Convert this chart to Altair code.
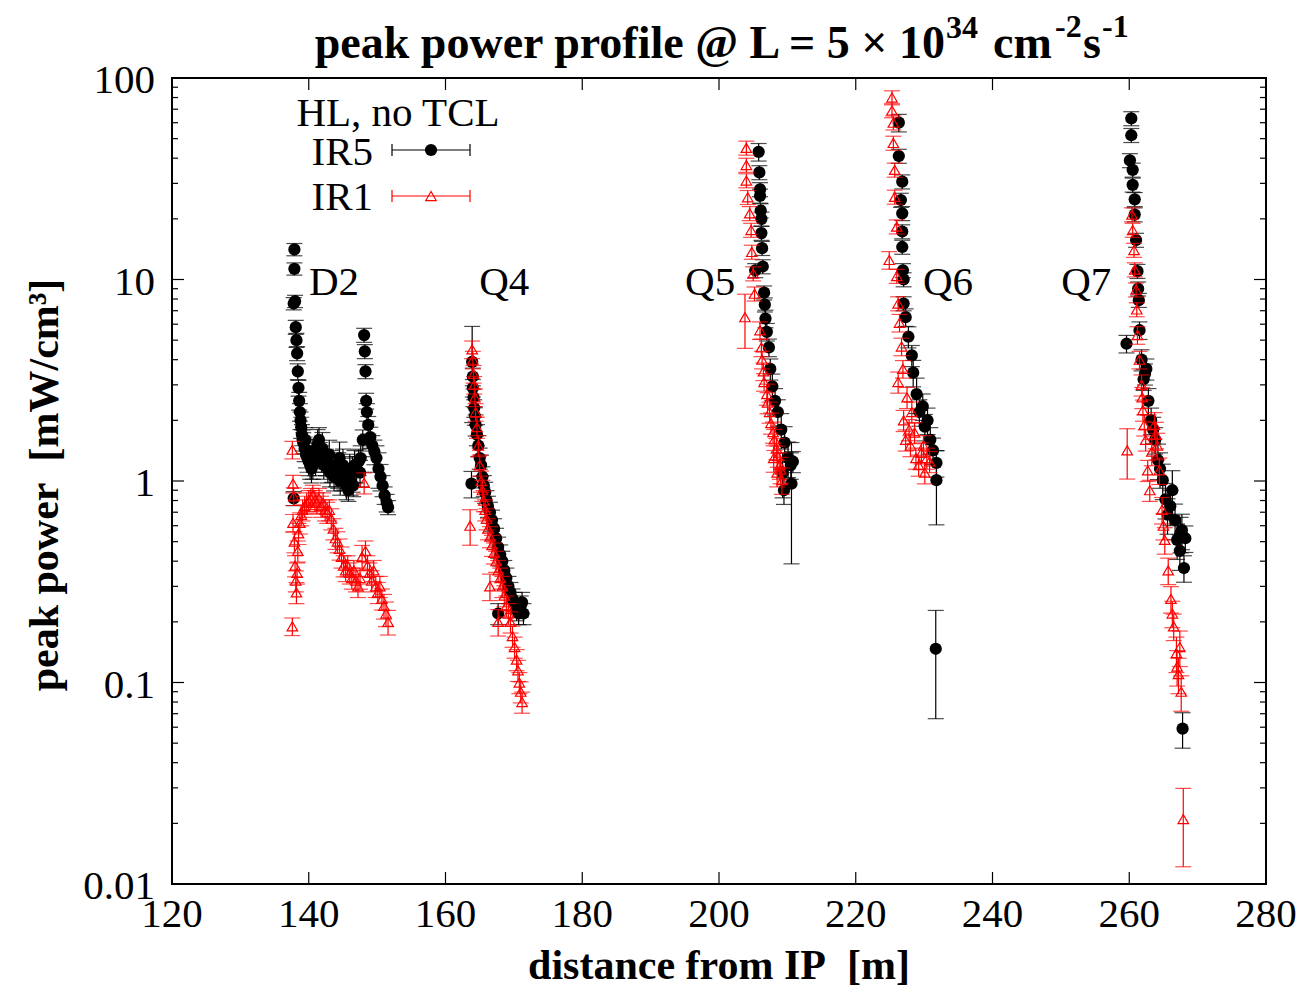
import altair as alt
import pandas as pd

# (distance [m], peak power [mW/cm3], relative error)
D2_IR5 = [(137.9,14.1,0.07),(137.9,11.3,0.07),(137.8,7.6,0.07),(138.0,7.8,0.07),(138.1,5.8,0.08),(138.2,5.0,0.08),
          (138.3,4.3,0.08),(138.4,3.5,0.09),(138.5,2.9,0.09),(138.6,2.5,0.1),(138.7,2.2,0.1),(138.8,2.0,0.1),
          (138.9,1.85,0.12),(139.0,1.7,0.12),(139.1,1.6,0.12),(139.2,1.55,0.12),(139.4,1.45,0.14),(139.5,1.6,0.15),
          (139.6,1.35,0.14),(139.8,1.3,0.15),(140.0,1.25,0.15),(140.2,1.2,0.15),(140.4,1.15,0.15),(140.5,1.4,0.15),
          (140.6,1.2,0.15),(140.8,1.3,0.15),(141.0,1.25,0.15),(141.3,1.5,0.2),(141.5,1.6,0.15),(141.6,1.35,0.15),
          (141.9,1.3,0.15),(142.0,1.45,0.2),(142.2,1.2,0.15),(142.5,1.25,0.15),(142.8,1.15,0.15),(143.0,1.35,0.18),
          (143.1,1.1,0.15),(143.4,1.2,0.18),(143.7,1.05,0.15),(144.0,1.1,0.15),(144.3,1.15,0.2),(144.5,1.3,0.2),
          (144.6,1.0,0.15),(144.9,1.05,0.15),(145.0,1.2,0.2),(145.2,1.1,0.18),(145.5,0.95,0.15),(145.8,0.9,0.12),
          (146.0,1.15,0.18),(146.1,1.0,0.15),(146.4,1.1,0.2),(146.5,0.95,0.12),(146.7,1.2,0.18),(147.0,1.15,0.15),
          (147.3,1.25,0.15),(147.5,1.1,0.15),(147.6,1.3,0.15),(137.8,0.82,0.08),(147.9,1.6,0.12),(148.1,5.3,0.08),
          (148.2,4.4,0.08),(148.3,3.5,0.08),(148.4,2.5,0.09),(148.5,2.2,0.1),(148.7,1.9,0.1),(149.0,1.65,0.12),
          (149.3,1.5,0.12),(149.6,1.4,0.14),(149.9,1.3,0.15),(150.2,1.15,0.2),(150.5,1.05,0.15),(150.8,0.95,0.12),
          (151.1,0.85,0.1),(151.4,0.78,0.1),(151.6,0.74,0.08)]
D2_IR1 = [(137.6,1.43,0.1),(137.7,0.97,0.1),(137.8,0.84,0.1),(137.7,0.62,0.1),(137.9,0.5,0.12),(138.0,0.38,0.12),
          (138.1,0.32,0.12),(138.2,0.28,0.12),(137.6,0.19,0.1),(138.3,0.35,0.12),(138.4,0.45,0.12),(138.5,0.55,0.12),
          (138.7,0.62,0.12),(138.9,0.68,0.12),(139.1,0.72,0.12),(139.4,0.75,0.12),(139.7,0.78,0.12),(140.0,0.8,0.12),
          (140.3,0.82,0.12),(140.6,0.85,0.12),(140.9,0.8,0.12),(141.2,0.78,0.12),(141.5,0.82,0.12),(141.8,0.75,0.12),
          (142.1,0.78,0.12),(142.4,0.72,0.12),(142.7,0.7,0.12),(143.0,0.72,0.12),(143.3,0.65,0.12),(143.6,0.58,0.12),
          (143.9,0.52,0.12),(144.2,0.5,0.12),(144.5,0.46,0.12),(144.8,0.42,0.12),(145.1,0.38,0.12),(145.4,0.36,0.12),
          (145.7,0.38,0.12),(146.0,0.35,0.12),(146.3,0.33,0.12),(146.6,0.36,0.12),(146.9,0.32,0.12),(147.2,0.3,0.12),
          (147.5,0.33,0.12),(147.8,0.42,0.14),(148.1,0.98,0.12),(148.3,0.45,0.12),(148.6,0.38,0.12),(148.9,0.35,0.12),
          (149.2,0.32,0.12),(149.5,0.36,0.12),(149.8,0.3,0.12),(150.1,0.28,0.12),(150.4,0.3,0.12),(150.7,0.26,0.12),
          (151.0,0.24,0.14),(151.3,0.22,0.14),(151.6,0.2,0.14)]
Q4_IR5 = [(163.9,3.9,0.5),(164.0,3.3,0.1),(164.0,2.9,0.1),(164.1,2.6,0.1),(164.2,2.3,0.1),(164.3,2.1,0.1),
          (164.4,1.9,0.12),(164.6,1.7,0.12),(164.8,1.5,0.12),(163.8,0.97,0.15),(165.0,1.3,0.12),(165.2,1.2,0.12),
          (165.4,1.05,0.12),(165.6,0.95,0.12),(165.8,0.88,0.12),(166.0,0.8,0.12),(166.2,0.75,0.12),(166.5,0.7,0.12),
          (166.8,0.64,0.12),(167.1,0.58,0.12),(167.4,0.52,0.12),(167.7,0.47,0.12),(168.0,0.43,0.12),(168.3,0.4,0.12),
          (168.6,0.36,0.12),(168.9,0.33,0.12),(169.2,0.3,0.12),(169.5,0.28,0.12),(169.8,0.26,0.12),(170.1,0.25,0.12),
          (170.4,0.23,0.12),(170.7,0.22,0.12),(171.0,0.24,0.12),(171.2,0.25,0.12),(171.4,0.22,0.12),(167.7,0.22,0.12)]
Q4_IR1 = [(163.9,4.5,0.1),(164.0,4.0,0.1),(164.1,3.4,0.1),(164.2,3.0,0.1),(164.3,2.6,0.1),(164.4,2.2,0.1),
          (164.6,1.85,0.12),(164.8,1.5,0.12),(165.0,1.2,0.12),(165.2,1.0,0.12),(163.6,0.6,0.2),(165.4,0.9,0.12),
          (165.6,0.8,0.12),(165.8,0.72,0.12),(166.0,0.65,0.12),(166.2,0.58,0.12),(166.5,0.53,0.12),(166.8,0.48,0.12),
          (167.1,0.44,0.12),(166.5,0.3,0.15),(167.4,0.4,0.12),(167.7,0.36,0.12),(168.0,0.33,0.12),(167.7,0.2,0.15),
          (168.3,0.3,0.12),(168.6,0.27,0.12),(168.9,0.24,0.12),(169.2,0.22,0.12),(169.5,0.2,0.12),(169.8,0.17,0.12),
          (170.1,0.15,0.12),(170.4,0.13,0.12),(170.6,0.115,0.12),(170.8,0.1,0.12),(171.0,0.09,0.12),(171.2,0.08,0.12)]
Q5_IR5 = [(205.8,43,0.1),(205.9,34,0.08),(206.0,28,0.08),(206.0,26,0.08),(206.1,22,0.08),(206.2,20,0.08),
          (206.2,17,0.08),(206.3,14.3,0.08),(206.4,11.6,0.08),(205.3,11.1,0.08),(206.6,8.6,0.08),(206.7,7.5,0.08),
          (206.8,6.4,0.1),(207.0,5.5,0.1),(207.3,4.6,0.1),(207.5,3.6,0.12),(207.8,2.95,0.15),(208.2,2.5,0.15),
          (208.6,2.2,0.15),(209.1,1.8,0.2),(209.6,1.55,0.2),(210.1,1.3,0.2),(210.5,1.2,0.15),(210.8,1.25,0.12),
          (210.6,0.97,0.6),(209.3,1.1,0.25),(209.5,0.9,0.15)]
Q5_IR1 = [(204.0,45,0.08),(204.0,37,0.08),(204.0,31,0.08),(204.2,25.6,0.08),(204.5,21.3,0.08),(204.7,17.6,0.08),
          (204.8,13.7,0.08),(205.0,10.7,0.08),(203.8,6.5,0.3),(205.2,8.5,0.08),(206.0,5.6,0.1),(206.2,4.6,0.1),
          (206.3,4.0,0.1),(206.5,3.5,0.1),(206.6,3.1,0.1),(207.0,2.7,0.12),(207.1,2.45,0.12),(207.4,2.2,0.12),
          (207.6,1.94,0.12),(207.9,1.75,0.12),(208.1,1.61,0.12),(208.4,1.45,0.12),(208.6,1.33,0.12),(208.9,1.2,0.15),
          (209.0,1.14,0.15),(209.2,1.01,0.15),(208.0,1.3,0.15),(208.5,1.1,0.15)]
Q6_IR5 = [(226.3,60,0.1),(226.3,41,0.08),(226.8,30.6,0.08),(226.6,24.8,0.08),(226.8,21.3,0.08),(226.8,17.3,0.08),
          (226.8,14.5,0.08),(226.9,11.1,0.08),(227.0,10,0.08),(227.0,7.6,0.08),(227.3,6.5,0.1),(227.7,5.2,0.12),
          (228.2,4.2,0.12),(228.4,3.45,0.15),(228.9,2.7,0.2),(229.8,2.35,0.15),(230.1,1.86,0.15),(231.3,1.42,0.15),
          (231.8,1.23,0.15),(231.8,1.01,0.4),(231.7,0.147,0.55),(229.3,2.2,0.15),(230.5,2.0,0.15),(230.9,1.6,0.15)]
Q6_IR1 = [(225.3,80,0.08),(225.3,69,0.08),(225.5,60,0.08),(225.5,47.6,0.08),(225.7,35,0.08),(225.7,25.7,0.08),
          (226.0,18.3,0.08),(224.9,12.5,0.1),(226.0,10.4,0.08),(226.2,7.6,0.08),(226.4,6.1,0.1),(226.7,4.65,0.1),
          (226.9,3.6,0.1),(226.2,3.1,0.12),(227.5,2.6,0.12),(228.2,2.2,0.12),(228.6,1.74,0.12),(229.6,1.38,0.12),
          (230.1,1.1,0.12),(227.0,2.0,0.12),(227.8,1.8,0.12),(228.0,1.5,0.12),(228.8,1.3,0.12),(229.2,1.2,0.12),
          (229.9,1.5,0.12),(230.4,1.3,0.12),(230.8,1.25,0.12),(227.3,1.6,0.12)]
Q7_IR5 = [(260.3,63,0.08),(260.3,52,0.08),(260.1,39,0.08),(260.5,35,0.08),(260.5,29.5,0.08),(260.8,25,0.08),
          (260.8,21,0.08),(261.0,15.7,0.08),(261.2,11,0.08),(261.3,9,0.08),(261.4,7.9,0.08),(261.5,5.6,0.1),
          (259.6,4.8,0.1),(261.8,4.0,0.12),(262.1,3.2,0.12),(262.5,3.6,0.12),(262.3,3.4,0.12),(262.8,2.5,0.15),
          (263.2,2.0,0.15),(263.5,1.8,0.15),(263.8,1.6,0.15),(264.2,1.27,0.2),(264.5,1.15,0.2),(264.9,1.01,0.2),
          (265.3,0.81,0.2),(265.6,0.68,0.2),(266.0,0.75,0.2),(266.3,0.9,0.25),(266.7,0.64,0.2),(267.0,0.51,0.2),
          (267.4,0.45,0.2),(267.5,0.55,0.2),(267.7,0.57,0.2),(268.0,0.37,0.15),(268.2,0.52,0.15),(267.8,0.059,0.2)]
Q7_IR1 = [(260.4,21,0.08),(260.5,17.6,0.08),(260.7,14,0.08),(260.8,11.2,0.08),(261.0,8.9,0.08),(261.1,7.1,0.08),
          (261.2,5.3,0.1),(261.5,4.0,0.1),(261.8,3.0,0.12),(261.9,2.6,0.12),(259.7,1.42,0.28),(262.0,2.25,0.12),
          (262.2,1.9,0.12),(262.4,1.6,0.12),(262.7,1.13,0.12),(263.0,0.9,0.12),(263.3,1.4,0.15),(263.7,1.9,0.15),
          (263.9,1.7,0.15),(264.1,1.5,0.15),(264.4,1.13,0.15),(264.8,0.72,0.15),(265.0,0.6,0.15),(265.2,0.51,0.15),
          (265.7,0.36,0.15),(266.1,0.26,0.15),(266.3,0.22,0.15),(266.5,0.19,0.15),(266.9,0.14,0.2),(267.0,0.12,0.2),
          (267.2,0.11,0.2),(267.4,0.15,0.2),(267.6,0.09,0.2),(267.9,0.021,0.42)]

MAGNETS = ["D2", "Q4", "Q5", "Q6", "Q7"]
MAGNET_X = [143.7, 168.6, 198.7, 233.5, 253.7]
MAGNET_Y = [9.6, 9.6, 9.6, 9.6, 9.6]

X_TICKS = [120, 140, 160, 180, 200, 220, 240, 260, 280]
X_LABELS = ["120", "140", "160", "180", "200", "220", "240", "260", "280"]
Y_TICKS = [0.01, 0.1, 1, 10, 100]
Y_LABELS = ["0.01", "0.1", "1", "10", "100"]
Y_MINOR = [m * d for d in (0.01, 0.1, 1, 10) for m in range(2, 10)]

W, H = 1094, 806
FONT = "Liberation Serif"
FS = 41
SP = "\u00a0\u00a0"


def frame(groups, series):
    rows = []
    for g in groups:
        for x, y, r in g:
            e = y * r
            rows.append(dict(series=series, x=x, y=y, lo=y - e, hi=y + e))
    return pd.DataFrame(rows)


ir5 = frame([D2_IR5, Q4_IR5, Q5_IR5, Q6_IR5, Q7_IR5], "IR5")
ir1 = frame([D2_IR1, Q4_IR1, Q5_IR1, Q6_IR1, Q7_IR1], "IR1")

xs = alt.Scale(domain=[120, 280], nice=False, zero=False)
ys = alt.Scale(type="log", domain=[0.01, 100], nice=False)
X = lambda f: alt.X(f, scale=xs, axis=None)
Y = lambda f: alt.Y(f, scale=ys, axis=None)


def series_layers(df, color, point_mark):
    base = alt.Chart(df)
    bars = base.mark_rule(color=color, strokeWidth=1.2).encode(x=X("x:Q"), y=Y("lo:Q"), y2="hi:Q")
    cap_lo = base.mark_tick(orient="horizontal", color=color, size=16, thickness=1.2).encode(
        x=X("x:Q"), y=Y("lo:Q"))
    cap_hi = base.mark_tick(orient="horizontal", color=color, size=16, thickness=1.2).encode(
        x=X("x:Q"), y=Y("hi:Q"))
    pts = base.mark_point(**point_mark).encode(x=X("x:Q"), y=Y("y:Q"))
    return [bars, cap_lo, cap_hi, pts]


BLACK_PT = dict(shape="circle", filled=True, color="black", size=150, opacity=1)
RED_PT = dict(shape="triangle-up", filled=False, color="red", size=110, strokeWidth=1.2, opacity=1)

black_layers = series_layers(ir5, "black", BLACK_PT)
red_layers = series_layers(ir1, "red", RED_PT)

# tick marks (inward, mirrored) and tick labels
xt = pd.DataFrame({"v": X_TICKS, "t": X_LABELS})
yt = pd.DataFrame({"v": Y_TICKS, "t": Y_LABELS})
ym = pd.DataFrame({"v": Y_MINOR})
rule = dict(color="black", strokeWidth=1.2)
tick_layers = [
    alt.Chart(xt).mark_rule(**rule).encode(x=X("v:Q"), y=alt.value(H), y2=alt.value(H - 12)),
    alt.Chart(xt).mark_rule(**rule).encode(x=X("v:Q"), y=alt.value(0), y2=alt.value(12)),
    alt.Chart(yt).mark_rule(**rule).encode(y=Y("v:Q"), x=alt.value(0), x2=alt.value(12)),
    alt.Chart(yt).mark_rule(**rule).encode(y=Y("v:Q"), x=alt.value(W), x2=alt.value(W - 12)),
    alt.Chart(ym).mark_rule(**rule).encode(y=Y("v:Q"), x=alt.value(0), x2=alt.value(6)),
    alt.Chart(ym).mark_rule(**rule).encode(y=Y("v:Q"), x=alt.value(W), x2=alt.value(W - 6)),
    alt.Chart(xt).mark_text(font=FONT, fontSize=FS, color="black", align="center",
                            baseline="middle").encode(x=X("v:Q"), y=alt.value(H + 31), text="t:N"),
    alt.Chart(yt).mark_text(font=FONT, fontSize=FS, color="black", align="right",
                            baseline="middle", dy=3).encode(x=alt.value(-17), y=Y("v:Q"), text="t:N"),
]

one = pd.DataFrame({"k": [0]})


def label(text, x, y, size=FS, weight="normal", align="center", baseline="middle", angle=0):
    return alt.Chart(one).mark_text(text=text, font=FONT, fontSize=size, fontWeight=weight,
                                    color="black", align=align, baseline=baseline,
                                    angle=angle).encode(x=alt.value(x), y=alt.value(y))


# axis titles and chart title (with superscripts)
text_layers = [
    label("distance from IP" + SP + "[m]", W / 2, 888, size=42, weight="bold"),
    label("peak power" + SP + "[mW/cm³]", -127, 407, size=42, weight="bold", angle=270),
    label("peak power profile @ L = 5 × 10", 773, -20, size=46, weight="bold",
          align="right", baseline="alphabetic"),
    label("34", 774, -40, size=32, weight="bold", align="left", baseline="alphabetic"),
    label("cm", 821, -20, size=46, weight="bold", align="left", baseline="alphabetic"),
    label("-2", 883, -41, size=32, weight="bold", align="left", baseline="alphabetic"),
    label("s", 911, -20, size=46, weight="bold", align="left", baseline="alphabetic"),
    label("-1", 930, -41, size=32, weight="bold", align="left", baseline="alphabetic"),
]

# magnet labels
mag = pd.DataFrame({"name": MAGNETS, "x": MAGNET_X, "y": MAGNET_Y})
mag_layer = alt.Chart(mag).mark_text(font=FONT, fontSize=FS, color="black",
                                     align="center", baseline="middle").encode(
    x=X("x:Q"), y=Y("y:Q"), text="name:N")

# legend
leg = [
    label("HL, no TCL", 226, 36),
    label("IR5", 201, 75, align="right"),
    label("IR1", 201, 120, align="right"),
]
for yy, col, pm in ((72, "black", BLACK_PT), (118, "red", RED_PT)):
    leg.append(alt.Chart(one).mark_rule(color=col, strokeWidth=1.2).encode(
        x=alt.value(220), x2=alt.value(298), y=alt.value(yy)))
    leg.append(alt.Chart(one).mark_rule(color=col, strokeWidth=1.2).encode(
        x=alt.value(220), y=alt.value(yy - 6), y2=alt.value(yy + 6)))
    leg.append(alt.Chart(one).mark_rule(color=col, strokeWidth=1.2).encode(
        x=alt.value(298), y=alt.value(yy - 6), y2=alt.value(yy + 6)))
    leg.append(alt.Chart(one).mark_point(**pm).encode(x=alt.value(259), y=alt.value(yy)))

chart = alt.layer(*black_layers, *red_layers, *tick_layers, *text_layers, mag_layer, *leg).properties(
    width=W, height=H,
    autosize=alt.AutoSizeParams(type="none"),
    padding={"left": 164, "top": 70, "right": 38, "bottom": 108},
    background="white",
).configure_view(stroke="black", strokeWidth=2)

chart.save("out.html", embed_options={"renderer": "svg", "actions": False})
